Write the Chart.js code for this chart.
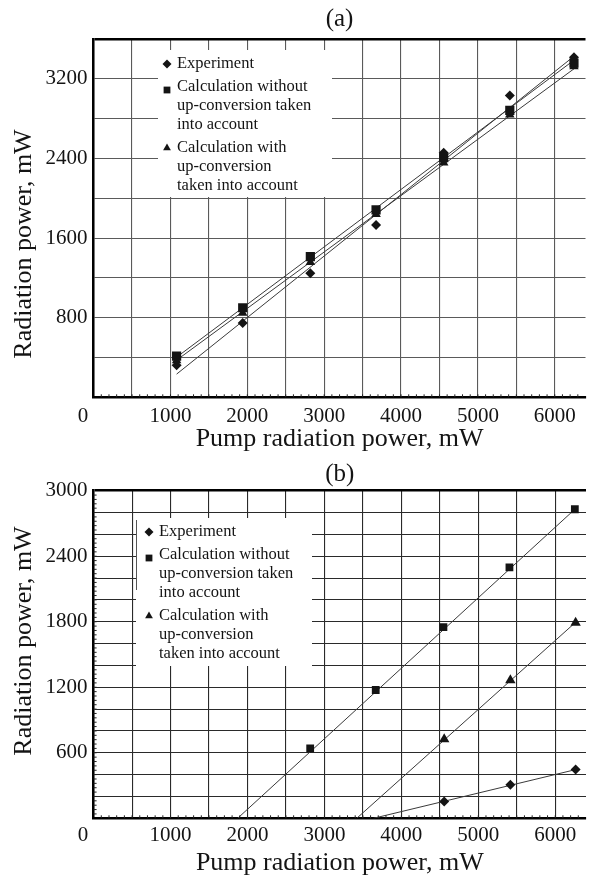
<!DOCTYPE html>
<html>
<head>
<meta charset="utf-8">
<script src="https://cdn.jsdelivr.net/npm/chart.js@4.4.0/dist/chart.umd.min.js"></script>
<style>
body{margin:0;background:#fff;}
canvas{display:block;}
</style>
</head>
<body>
<canvas id="chartA" width="592" height="460"></canvas>
<canvas id="chartB" width="592" height="419"></canvas>
<script>
// ---- (a) ----
var pumpA = [1080, 1940, 2820, 3675, 4555, 5415, 6250];
var expA = [323, 747, 1247, 1730, 2457, 3033, 3417];
var withoutA = [413, 900, 1413, 1883, 2407, 2883, 3357];
var withA = [370, 847, 1357, 1840, 2357, 2840, 3323];
// straight fitted lines, end points
var fitPumpA = [1080, 6260];
var fitExpA = [233, 3433];
var fitWithoutA = [403, 3393];
var fitWithA = [373, 3306];

// ---- (b) ----
var pumpWithoutB = [2815, 3667, 4547, 5405, 6255];
var withoutB = [640, 1175, 1750, 2298, 2830];
var pumpB = [4557, 5417, 6265];
var expB = [154, 308, 446];
var withB = [725, 1265, 1790];
var fitWithoutPumpB = [1872, 6255];
var fitWithoutB = [0, 2830];
var fitWithPumpB = [3420, 6265];
var fitWithB = [0, 1795];
var fitExpPumpB = [3638, 6265];
var fitExpB = [0, 446];

// ticks
var xTickLabels = [1000, 2000, 3000, 4000, 5000, 6000];
var yTickLabelsA = [800, 1600, 2400, 3200];
var yTickLabelsB = [600, 1200, 1800, 2400, 3000];

var legendLines = [
	['Experiment'],
	['Calculation without', 'up-conversion taken', 'into account'],
	['Calculation with', 'up-conversion', 'taken into account']
];
var markerStyles = ['rectRot', 'rect', 'triangle'];

var serif = '"Liberation Serif", "Times New Roman", serif';
var ink = '#141414';

function pts(xs, ys){
	return xs.map(function(x, i){ return {x: x, y: ys[i]}; });
}

function pointSet(label, xs, ys, style, r){
	return {
		label: label, data: pts(xs, ys), showLine: false,
		pointStyle: style, pointRadius: r, pointHoverRadius: r,
		backgroundColor: ink, borderColor: ink, borderWidth: 0
	};
}

function lineSet(xs, ys){
	return {
		label: '', data: pts(xs, ys), showLine: true, pointRadius: 0,
		borderColor: '#3a3a3a', borderWidth: 1
	};
}

// legend box, y-axis title and small axis ticks
var extras = {
	id: 'extras',
	afterDraw: function(chart, args, o){
		var ctx = chart.ctx;
		var area = chart.chartArea;
		var xs = chart.scales.x, ys = chart.scales.y;
		ctx.save();

		// minor ticks on the axes
		ctx.strokeStyle = '#222';
		ctx.lineWidth = 1;
		ctx.beginPath();
		for (var v = 100; v < xs.max; v += 100){
			var px = xs.getPixelForValue(v);
			ctx.moveTo(px, area.bottom);
			ctx.lineTo(px, area.bottom - 3);
		}
		if (o.yMinor){
			for (var w = o.yMinor; w < ys.max; w += o.yMinor){
				var py = ys.getPixelForValue(w);
				ctx.moveTo(area.left, py);
				ctx.lineTo(area.left + 3, py);
			}
		}
		ctx.stroke();

		// legend
		var L = o.legend;
		ctx.fillStyle = '#fff';
		ctx.fillRect(L.left, L.top, L.width, L.height);
		if (L.sideLine){
			ctx.strokeStyle = '#555';
			ctx.beginPath();
			ctx.moveTo(L.left + 0.5, L.top + 2);
			ctx.lineTo(L.left + 0.5, L.sideLine);
			ctx.stroke();
		}
		ctx.font = '16.5px ' + serif;
		ctx.textBaseline = 'middle';
		ctx.textAlign = 'left';
		var y = L.firstRow;
		legendLines.forEach(function(lines, i){
			ctx.fillStyle = ink;
			var r = markerStyles[i] === 'rect' ? 4.8 : 4.5;
			var dy = markerStyles[i] === 'rect' ? 3 : 0;
			Chart.helpers.drawPoint(ctx, {pointStyle: markerStyles[i], radius: r, rotation: 0, borderWidth: 0}, L.markerX, y + dy);
			lines.forEach(function(t){
				ctx.fillText(t, L.textX, y);
				y += 19;
			});
			y += 4;
		});

		// y axis title
		ctx.translate(o.yTitle[0], o.yTitle[1]);
		ctx.rotate(-Math.PI / 2);
		ctx.font = '26px ' + serif;
		ctx.textAlign = 'center';
		ctx.fillStyle = ink;
		ctx.fillText('Radiation power, mW', 0, 0);
		ctx.restore();
	}
};

function makeChart(id, p){
	var gridColor = function(c){ return c.tick && c.tick.value === p.yMax ? '#000' : p.grid; };
	var gridWidth = function(c){ return c.tick && c.tick.value === p.yMax ? 2.5 : 1.1; };
	return new Chart(document.getElementById(id), {
		type: 'scatter',
		data: {datasets: p.datasets},
		plugins: [extras],
		options: {
			responsive: false,
			animation: false,
			devicePixelRatio: 1,
			layout: {padding: 0},
			plugins: {
				legend: {display: false},
				tooltip: {enabled: false},
				title: {
					display: true, text: p.title, fullSize: false, color: ink,
					font: {family: serif, size: 25, weight: 'normal', lineHeight: 1},
					padding: p.titlePad
				},
				extras: {legend: p.legend, yTitle: p.yTitle, yMinor: p.yMinor}
			},
			scales: {
				x: {
					type: 'linear', min: 0, max: 6400,
					afterBuildTicks: function(s){
						var t = [];
						for (var v = 0; v <= s.max; v += 500) t.push({value: v});
						s.ticks = t;
					},
					afterFit: function(s){ s.height = p.xHeight; },
					grid: {color: p.grid, lineWidth: 1.1, drawTicks: false},
					border: {color: '#000', width: 2.5},
					ticks: {
						autoSkip: false, maxRotation: 0, padding: p.xTickPad, color: ink,
						font: {family: serif, size: 21},
						callback: function(v){
							if (v === 0) return '0\u2003';
							return xTickLabels.indexOf(v) >= 0 ? String(v) : '';
						}
					},
					title: {
						display: true, text: 'Pump radiation power, mW', color: ink,
						font: {family: serif, size: 26},
						padding: {top: 0, bottom: p.xTitlePad}
					}
				},
				y: {
					type: 'linear', min: 0, max: p.yMax,
					afterBuildTicks: function(s){
						var t = [];
						for (var v = 0; v <= s.max + 0.001; v += p.yStep) t.push({value: v});
						s.ticks = t;
					},
					afterFit: function(s){ s.width = 93.6; },
					grid: {color: gridColor, lineWidth: gridWidth, drawTicks: false},
					border: {color: '#000', width: 2.5},
					ticks: {
						autoSkip: false, padding: 6, color: ink,
						font: {family: serif, size: 21},
						callback: function(v){ return p.yLabels.indexOf(v) >= 0 ? String(v) : ''; }
					}
				}
			}
		}
	});
}

makeChart('chartA', {
	title: '(a)', titlePad: {top: 6.5, bottom: 7.5},
	yMax: 3600, yStep: 400, yLabels: yTickLabelsA, grid: '#5a5a5a',
	xHeight: 62.7, xTickPad: 7, xTitlePad: 5.4,
	yTitle: [24.5, 244], yMinor: 0,
	legend: {left: 158, top: 50, width: 174, height: 147, markerX: 167, textX: 177, firstRow: 64},
	datasets: [
		pointSet('Calculation without up-conversion taken into account', pumpA, withoutA, 'rect', 6.5),
		pointSet('Calculation with up-conversion taken into account', pumpA, withA, 'triangle', 5.5),
		pointSet('Experiment', pumpA, expA, 'rectRot', 5),
		lineSet(fitPumpA, fitExpA),
		lineSet(fitPumpA, fitWithoutA),
		lineSet(fitPumpA, fitWithA)
	]
});

makeChart('chartB', {
	title: '(b)', titlePad: {top: 1.5, bottom: 4.2},
	yMax: 3000, yStep: 200, yLabels: yTickLabelsB, grid: '#2a2a2a',
	xHeight: 60.7, xTickPad: 5, xTitlePad: 0.4,
	yTitle: [24.5, 181], yMinor: 40,
	legend: {left: 136, top: 58, width: 176, height: 148, markerX: 149, textX: 159, firstRow: 72, sideLine: 130},
	datasets: [
		pointSet('Experiment', pumpB, expB, 'rectRot', 5),
		pointSet('Calculation without up-conversion taken into account', pumpWithoutB, withoutB, 'rect', 5.5),
		pointSet('Calculation with up-conversion taken into account', pumpB, withB, 'triangle', 6),
		lineSet(fitExpPumpB, fitExpB),
		lineSet(fitWithoutPumpB, fitWithoutB),
		lineSet(fitWithPumpB, fitWithB)
	]
});
</script>
</body>
</html>
